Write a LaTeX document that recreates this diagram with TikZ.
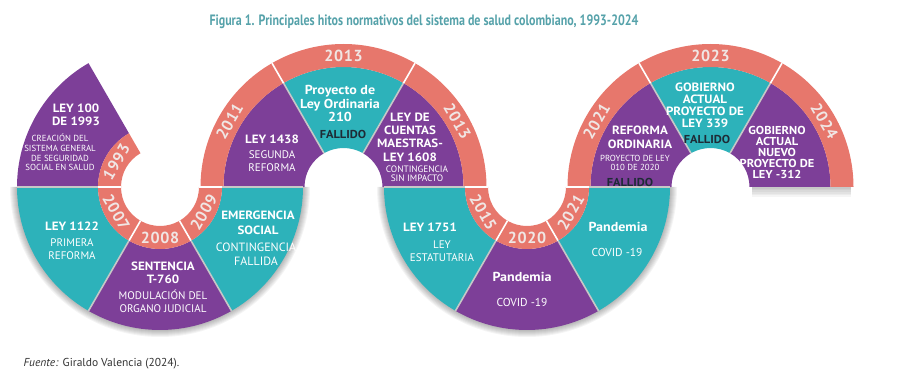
\documentclass[tikz,border=0pt]{standalone}
\usepackage{fontspec}
\setmainfont{PT Sans}
\newfontfamily\headfont[FakeStretch=1.08]{PT Sans}
\newfontfamily\titlefont[FakeStretch=0.8]{PT Sans}
\newfontfamily\yearfont[LetterSpace=4]{PT Sans}
\usetikzlibrary{calc}

\definecolor{purpc}{RGB}{125,63,152}
\definecolor{tealc}{RGB}{45,178,186}
\definecolor{salmc}{RGB}{231,119,108}
\definecolor{yearc}{RGB}{240,230,228}
\definecolor{darkc}{RGB}{30,43,54}
\definecolor{titlec}{RGB}{86,162,170}

\begin{document}
\begin{tikzpicture}[
    x=1pt, y=1pt,
    head/.style={text=white, font=\headfont\bfseries\fontsize{12}{13}\selectfont, align=center, inner sep=0pt},
    body/.style={text=white, font=\fontsize{11}{13}\selectfont, align=center, inner sep=0pt},
    small/.style={text=white, font=\fontsize{8.8}{9.7}\selectfont, align=center, inner sep=0pt},
    fail/.style={text=darkc, font=\headfont\bfseries\fontsize{11.5}{13}\selectfont, inner sep=0pt},
    yr/.style={text=yearc, font=\yearfont\bfseries\fontsize{16}{16}\selectfont, inner sep=0pt},
    cut/.style={draw=black!22, line width=1.6pt},
    gap/.style={draw=white, line width=1.6pt}
]
\useasboundingbox (0,0) rectangle (900,388);

% centres of the four turns
\coordinate (A) at (160,201);
\coordinate (B) at (343.5,201);
\coordinate (C) at (527,201);
\coordinate (D) at (710.5,201);

% soft shadow under the lower turns
\foreach \ctr in {A,C}
  \foreach \k in {1,...,7}
    \fill[black, opacity=0.045, yshift=-3]
      ([shift={(180:{143+\k})}]\ctr) arc[start angle=180, end angle=360, radius={143+\k}]
      -- ([shift={(0:120)}]\ctr) arc[start angle=360, end angle=180, radius=120] -- cycle;
\foreach \k in {1,...,6}
  \fill[black, opacity=0.04] (752,201) rectangle (851,{201-1.7*\k});

% coloured pieces: centre / start angle / colour / inner / outer radius
\foreach \ctr/\a/\col/\ri/\ro in {A/120/purpc/62/143, A/180/tealc/62/143, A/240/purpc/62/143, A/300/tealc/62/143,
    B/0/purpc/39/120, B/60/tealc/39/120, B/120/purpc/39/120,
    C/180/tealc/62/143, C/240/purpc/62/143, C/300/tealc/62/143,
    D/0/purpc/39/120, D/60/tealc/39/120, D/120/purpc/39/120}
  \fill[\col] ([shift={(\a:\ri)}]\ctr) arc[start angle=\a, delta angle=60, radius=\ri]
    -- ([shift={({\a+60}:\ro)}]\ctr) arc[start angle={\a+60}, delta angle=-60, radius=\ro] -- cycle;

% year bands
\foreach \ctr/\a/\ri/\ro in {A/120/39/62, A/180/39/62, A/240/39/62, A/300/39/62,
    B/0/120/143, B/60/120/143, B/120/120/143,
    C/180/39/62, C/240/39/62, C/300/39/62,
    D/0/120/143, D/60/120/143, D/120/120/143}
  \fill[salmc] ([shift={(\a:\ri)}]\ctr) arc[start angle=\a, delta angle=60, radius=\ri]
    -- ([shift={({\a+60}:\ro)}]\ctr) arc[start angle={\a+60}, delta angle=-60, radius=\ro] -- cycle;

% cuts, band inside
\foreach \ctr/\a in {A/180, A/240, A/300, A/360, C/180, C/240, C/300, C/360} {
  \draw[gap] ([shift={(\a:39)}]\ctr) -- ([shift={(\a:62)}]\ctr);
  \draw[cut] ([shift={(\a:62)}]\ctr) -- ([shift={(\a:143)}]\ctr);
}
% cuts, band outside
\foreach \ctr/\a in {B/60, B/120, D/60, D/120} {
  \draw[cut] ([shift={(\a:39)}]\ctr) -- ([shift={(\a:120)}]\ctr);
  \draw[gap] ([shift={(\a:120)}]\ctr) -- ([shift={(\a:143)}]\ctr);
}

% years
\foreach \ctr/\th/\r/\rot/\yr in {A/150/50.5/60/1993, A/210/50.5/300/2007, A/270/50.5/0/2008, A/330/50.5/60/2009,
    B/150/131.5/60/2011, B/90/131.5/0/2013, B/30/131.5/-60/2013,
    C/210/50.5/300/2015, C/270/50.5/0/2020, C/330/50.5/60/2021,
    D/150/131.5/60/2021, D/90/131.5/0/2023, D/30/131.5/-60/2024}
  \node[yr, rotate=\rot] (y\ctr\th) at ([shift={(\th:\r)}]\ctr) {\yr};

% first turn
\node[head] (ley100) at (76,273.5) {LEY 100\\DE 1993};
\node[small] (ley100txt) at (60,235.5) {CREACIÓN DEL\\SISTEMA GENERAL\\DE SEGURIDAD\\SOCIAL EN SALUD};
\node[head] (ley1122) at (72,162) {LEY 1122};
\node[body] (ley1122txt) at (72,138.5) {PRIMERA\\REFORMA};
\node[head] (t760) at (163,115) {SENTENCIA\\T-760};
\node[body] (t760txt) at (163,86.5) {MODULACIÓN DEL\\ORGANO JUDICIAL};
\node[head] (emerg) at (258,165) {EMERGENCIA\\[2.5pt]SOCIAL};
\node[body, font=\fontsize{12}{14}\selectfont] (emergtxt) at (256,133.5) {CONTINGENCIA\\FALLIDA};

% second turn
\node[head] (ley1438) at (272,249) {LEY 1438};
\node[body] (ley1438txt) at (272,227) {SEGUNDA\\REFORMA};
\node[head, font=\headfont\bfseries\fontsize{13}{13.5}\selectfont] (pl210) at (340,284.5) {Proyecto de\\Ley Ordinaria\\210};
\node[fail] (pl210f) at (343,254) {FALLIDO};
\node[head, font=\headfont\bfseries\fontsize{12}{13.3}\selectfont] (ley1608) at (410,251) {LEY DE\\CUENTAS\\MAESTRAS-\\LEY 1608};
\node[small, font=\fontsize{9.3}{9.3}\selectfont] (ley1608txt) at (417,214.5) {CONTINGENCIA\\SIN IMPACTO};

% third turn
\node[head] (ley1751) at (430,161) {LEY 1751};
\node[body] (ley1751txt) at (442,136.5) {LEY\\ESTATUTARIA};
\node[head, font=\headfont\bfseries\fontsize{13}{13}\selectfont] (pand1) at (522,111) {Pandemia};
\node[body, font=\fontsize{11.5}{13}\selectfont] (covid1) at (522,86) {COVID -19};
\node[head, font=\headfont\bfseries\fontsize{13}{13}\selectfont] (pand2) at (618,161) {Pandemia};
\node[body, font=\fontsize{11.5}{13}\selectfont] (covid2) at (617,136) {COVID -19};

% fourth turn
\node[head, font=\headfont\bfseries\fontsize{12}{14}\selectfont] (refo) at (640,251) {REFORMA\\ORDINARIA};
\node[small] (refotxt) at (635,225) {PROYECTO DE LEY\\010 DE 2020};
\node[fail] (refof) at (630,206) {FALLIDO};
\node[head, font=\headfont\bfseries\fontsize{12}{12}\selectfont] (pl339) at (705,283) {GOBIERNO\\ACTUAL\\PROYECTO DE\\LEY 339};
\node[fail] (pl339f) at (707,249) {FALLIDO};
\node[head, font=\headfont\bfseries\fontsize{11.5}{11}\selectfont] (pl312) at (777,236) {GOBIERNO\\ACTUAL\\NUEVO\\PROYECTO DE\\LEY -312};

% caption and source
\node[text=titlec, font=\titlefont\bfseries\fontsize{15}{16}\selectfont] (fig) at (424,366)
  {Figura 1. Principales hitos normativos del sistema de salud colombiano, 1993-2024};
\node[anchor=west, text=black!80, font=\fontsize{11.5}{13}\selectfont] (src) at (20,24)
  {\textit{Fuente:} Giraldo Valencia (2024).};
\end{tikzpicture}
\end{document}
